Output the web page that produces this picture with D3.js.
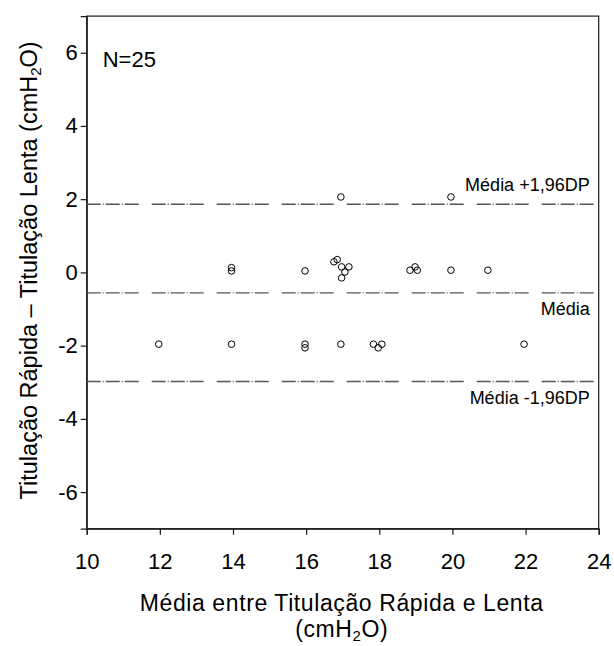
<!DOCTYPE html>
<html>
<head>
<meta charset="utf-8">
<script src="https://cdn.jsdelivr.net/npm/d3@7"></script>
<style>
  html, body { margin: 0; padding: 0; background: #fff; }
  svg { display: block; font-family: "Liberation Sans", Arial, sans-serif; }
</style>
</head>
<body>
<svg id="chart" width="614" height="646"></svg>
<script>
// Bland-Altman: mean of the two titrations vs. their difference (cmH2O)
const meanValues = [11.97, 13.96, 13.96, 13.96, 15.97, 15.97, 15.97, 16.76, 16.85, 16.95,
                    16.97, 16.97, 17.06, 17.17, 16.95, 17.84, 17.97, 18.07, 18.84, 18.98,
                    19.04, 19.96, 19.96, 20.97, 21.96];
const diffValues = [-1.96, 0.13, 0.04, -1.96, 0.04, -1.96, -2.06, 0.29, 0.35, 2.06,
                    0.15, -0.15, 0.01, 0.15, -1.96, -1.96, -2.06, -1.96, 0.06, 0.15,
                    0.06, 0.06, 2.06, 0.06, -1.96];

// Agreement lines: mean difference and ±1.96 SD limits
const limitValues = [1.86, -0.56, -2.98];
const limitLabels = ["Média +1,96DP", "Média", "Média -1,96DP"];
const limitLabelAbove = [true, false, false];

const xTicks = [10, 12, 14, 16, 18, 20, 22, 24];
const yTicks = [-6, -4, -2, 0, 2, 4, 6];
const xDomain = [10, 24];
const yDomain = [-7, 7];
const sampleLabel = "N=25";

const svg = d3.select("#chart");
const plotLeft = 86.7, plotRight = 598.7, plotTop = 16.1, plotBottom = 528.7;

const x = d3.scaleLinear().domain(xDomain).range([plotLeft, plotRight]);
const y = d3.scaleLinear().domain(yDomain).range([plotBottom, plotTop]);

const frameColor = "#1a1a1a";
const plainNumber = d => String(d);   // hyphen-minus for negatives

// Plot frame
svg.append("rect")
  .attr("x", plotLeft).attr("y", plotTop)
  .attr("width", plotRight - plotLeft).attr("height", plotBottom - plotTop)
  .attr("fill", "none").attr("stroke", frameColor).attr("stroke-width", 1.2);

// Axes
const xAxis = svg.append("g")
  .attr("transform", `translate(0,${plotBottom})`)
  .call(d3.axisBottom(x).tickValues(xTicks).tickSize(6).tickPadding(19).tickFormat(plainNumber));
const yAxis = svg.append("g")
  .attr("transform", `translate(${plotLeft},0)`)
  .call(d3.axisLeft(y).tickValues(yTicks).tickSize(6).tickPadding(3).tickFormat(plainNumber));

[xAxis, yAxis].forEach(g => {
  g.select(".domain").attr("stroke", frameColor).attr("stroke-width", 1.2);
  g.selectAll(".tick line").attr("stroke", frameColor).attr("stroke-width", 1.2);
  g.selectAll(".tick text")
    .attr("fill", "#000")
    .style("font-family", "'Liberation Sans', Arial, sans-serif")
    .style("font-size", "22px");
});

// Agreement lines (dash-dot-dash-dot-dash pattern)
svg.append("g").selectAll("line")
  .data(limitValues)
  .join("line")
  .attr("x1", x(xDomain[0])).attr("x2", x(xDomain[1]))
  .attr("y1", d => y(d)).attr("y2", d => y(d))
  .attr("stroke", "#555")
  .attr("stroke-width", 1.4)
  .attr("stroke-dasharray", "14,2,1,2,14,2,1,2,14,13");

svg.append("g").selectAll("text")
  .data(limitValues)
  .join("text")
  .attr("x", plotRight - 9)
  .attr("y", (d, i) => limitLabelAbove[i] ? y(d) - 13 : y(d) + 22)
  .attr("text-anchor", "end")
  .attr("font-size", 18)
  .attr("fill", "#000")
  .text((d, i) => limitLabels[i]);

// Points
svg.append("g").selectAll("circle")
  .data(meanValues.map((m, i) => [m, diffValues[i]]))
  .join("circle")
  .attr("cx", d => x(d[0]))
  .attr("cy", d => y(d[1]))
  .attr("r", 3.3)
  .attr("fill", "none")
  .attr("stroke", "#000")
  .attr("stroke-width", 1);

// Sample size
svg.append("text")
  .attr("x", 102.7).attr("y", 66.7)
  .attr("font-size", 22).attr("fill", "#000")
  .text(sampleLabel);

// X axis title (two lines)
const cx = (plotLeft + plotRight) / 2 - 1;
svg.append("text")
  .attr("x", cx).attr("y", 610.5)
  .attr("text-anchor", "middle")
  .attr("font-size", 23).attr("letter-spacing", 0.6).attr("fill", "#000")
  .text("Média entre Titulação Rápida e Lenta");
const xUnit = svg.append("text")
  .attr("x", cx).attr("y", 637)
  .attr("text-anchor", "middle")
  .attr("font-size", 23).attr("letter-spacing", 0.6).attr("fill", "#000");
xUnit.append("tspan").text("(cmH");
xUnit.append("tspan").attr("font-size", 15).attr("dy", 4).text("2");
xUnit.append("tspan").attr("dy", -4).text("O)");

// Y axis title (rotated)
const yTitle = svg.append("text")
  .attr("transform", `translate(37,${(plotTop + plotBottom) / 2 - 2}) rotate(-90)`)
  .attr("text-anchor", "middle")
  .attr("font-size", 23.5).attr("fill", "#000");
yTitle.append("tspan").text("Titulação Rápida – Titulação Lenta (cmH");
yTitle.append("tspan").attr("font-size", 15).attr("dy", 4).text("2");
yTitle.append("tspan").attr("dy", -4).text("O)");
</script>
</body>
</html>
